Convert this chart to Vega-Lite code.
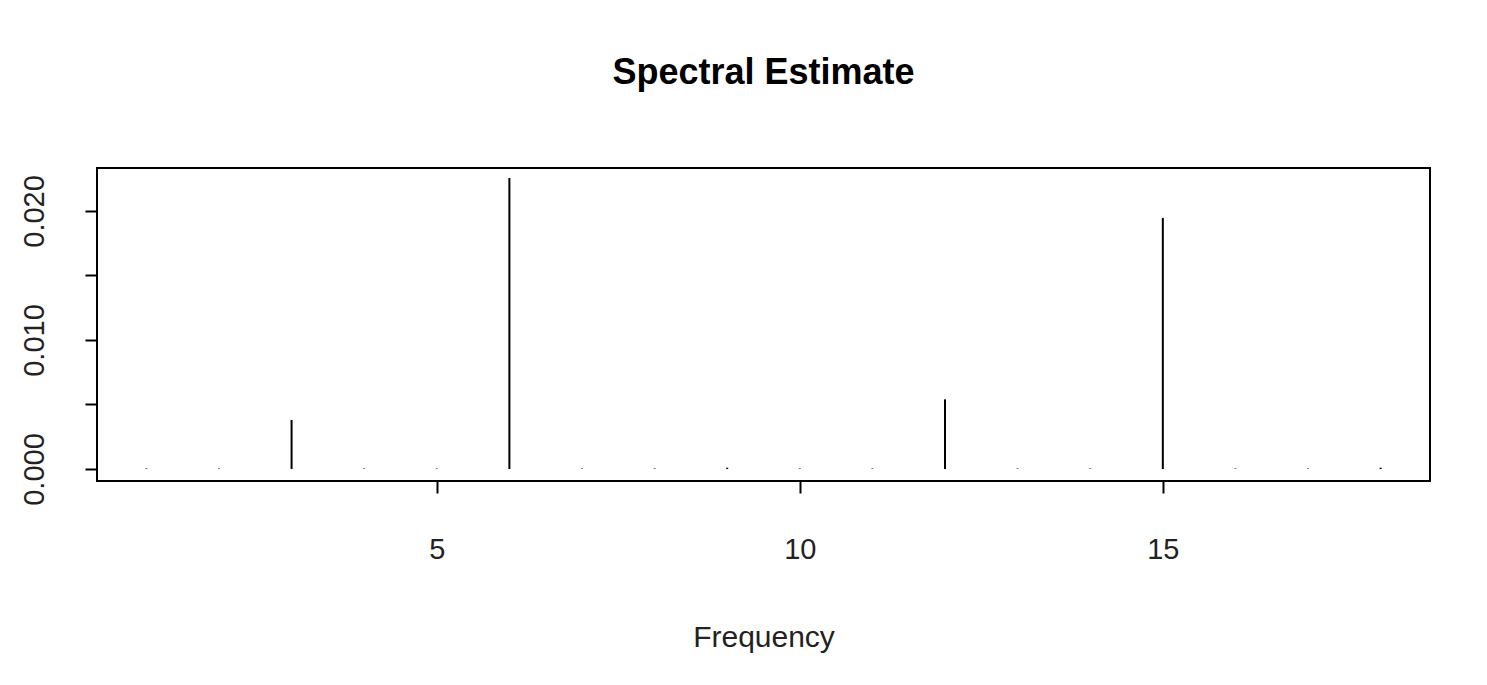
{
  "$schema": "https://vega.github.io/schema/vega-lite/v6.json",
  "width": 1333,
  "height": 313,
  "autosize": {"type": "none"},
  "padding": {"left": 97, "top": 168, "right": 57, "bottom": 204},
  "background": "white",
  "title": {"text": "Spectral Estimate", "fontSize": 36, "font": "Liberation Sans", "fontWeight": "bold", "color": "black", "offset": 76, "anchor": "middle"},
  "config": {"view": {"stroke": "black", "strokeWidth": 2}},
  "data": {"values": [
    {"freq": 1, "spec": 0.00004},
    {"freq": 2, "spec": 0.00004},
    {"freq": 3, "spec": 0.0038},
    {"freq": 4, "spec": 0.00004},
    {"freq": 5, "spec": 0.00004},
    {"freq": 6, "spec": 0.02256},
    {"freq": 7, "spec": 0.00004},
    {"freq": 8, "spec": 0.00004},
    {"freq": 9, "spec": 0.0001},
    {"freq": 10, "spec": 0.00004},
    {"freq": 11, "spec": 0.00004},
    {"freq": 12, "spec": 0.0054},
    {"freq": 13, "spec": 0.00004},
    {"freq": 14, "spec": 0.00004},
    {"freq": 15, "spec": 0.01946},
    {"freq": 16, "spec": 0.00004},
    {"freq": 17, "spec": 0.00004},
    {"freq": 18, "spec": 0.0001}
  ]},
  "mark": {"type": "rule", "color": "black", "strokeWidth": 2},
  "encoding": {
    "x": {"field": "freq", "type": "quantitative",
      "scale": {"domain": [0.32, 18.68], "nice": false, "zero": false},
      "axis": {"values": [5, 10, 15], "title": "Frequency", "grid": false, "domain": false,
        "tickSize": 12, "tickColor": "black", "tickWidth": 2, "labelPadding": 42,
        "labelFont": "Liberation Sans", "labelFontSize": 29, "labelColor": "#222",
        "titleFont": "Liberation Sans", "titleFontSize": 30, "titleFontWeight": "normal", "titleColor": "#222", "titlePadding": 58}},
    "y": {"field": "spec", "type": "quantitative",
      "scale": {"domain": [-0.00093, 0.02333], "nice": false, "zero": false},
      "axis": {"values": [0, 0.005, 0.01, 0.015, 0.02], "title": null, "grid": false, "domain": false,
        "labelExpr": "(datum.value == 0.005 || datum.value == 0.015) ? '' : format(datum.value, '.3f')",
        "labelAngle": -90, "labelAlign": "center", "labelBaseline": "bottom",
        "tickSize": 12, "tickColor": "black", "tickWidth": 2, "labelPadding": 36,
        "labelFont": "Liberation Sans", "labelFontSize": 29, "labelColor": "#222"}},
    "y2": {"datum": 0}
  }
}
